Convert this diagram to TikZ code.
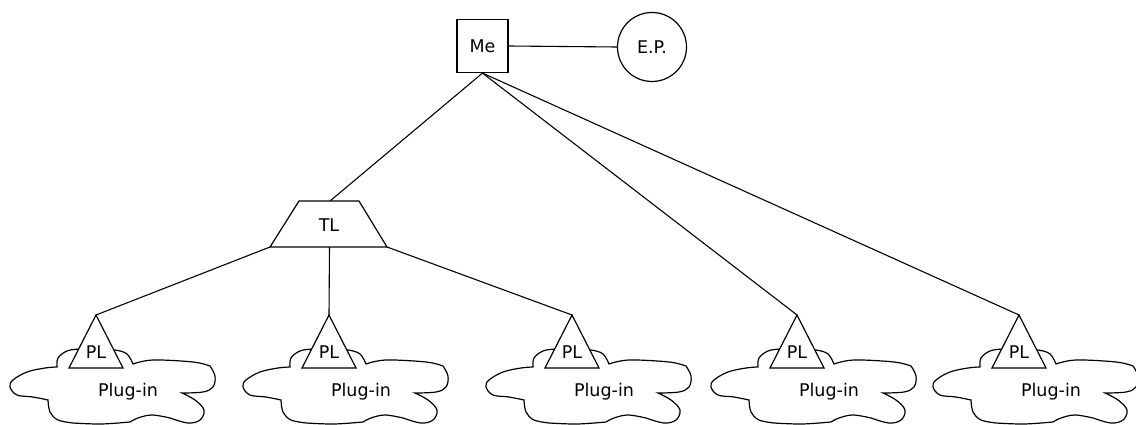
\documentclass[tikz,border=0pt]{standalone}
\usepackage{fontspec}
\setmainfont{DejaVu Sans}
\begin{document}
\begin{tikzpicture}[x=1pt,y=-1pt,line width=1.2pt,
  font=\fontsize{17.5}{21}\selectfont,
  every node/.style={inner sep=0pt},
  link/.style={line width=1.1pt},
  plug/.style={fill=white,line join=miter}]
\useasboundingbox (0,0) rectangle (1136,425);

% top of the tree
\node[draw,minimum width=51pt,minimum height=53pt] (me) at (482.5,46) {Me};
\node[draw,circle,minimum size=69pt] (ep) at (652,47) {E.P.};
\draw[link] (me.east) -- (ep.west);

% trapezoid TL
\coordinate (tlA) at (270,247);
\coordinate (tlB) at (387,247);
\coordinate (tlC) at (359,201);
\coordinate (tlD) at (299,201);
\coordinate (tltop) at (330,201);
\coordinate (tlmid) at (329.5,247);
\draw[line join=miter] (tlA) -- (tlB) -- (tlC) -- (tlD) -- cycle;
\node (tl) at (329,225) {TL};

% a cloud with a PL triangle on top; #1 = x of apex, #2 = name
\newcommand\plugcloud[2]{%
  \begin{scope}[shift={(#1,0)}]
    \draw[plug]
      plot[smooth,tension=0.6] coordinates {(-39,367) (-38,358) (-29,351) (-16,349) (0,349) (19,350) (31,354) (37,364)}
      -- plot[smooth,tension=0.6] coordinates {(37,364) (57,360) (97,362) (114,366)}
      -- plot[smooth,tension=0.6] coordinates {(114,366) (119,376) (117,387) (107,392) (86,393)}
      -- plot[smooth,tension=0.6] coordinates {(86,393) (99,400) (108,410) (104,420) (92,423) (74,418)}
      -- plot[smooth,tension=0.6] coordinates {(74,418) (56,415) (42,418) (34,422)}
      -- plot[smooth,tension=0.6] coordinates {(34,422) (5,424) (-23,423)}
      -- plot[smooth,tension=0.6] coordinates {(-23,423) (-38,420) (-46,412) (-48,400)}
      -- plot[smooth,tension=0.6] coordinates {(-48,400) (-63,397) (-79,395) (-86,387) (-83,380) (-69,372) (-51,368) (-39,367)}
      -- cycle;
    \coordinate (#2) at (0,315);
    \draw[plug] (#2) -- (27,368) -- (-27,368) -- cycle;
    \node (#2t) at (0,352) {PL};
    \node (#2c) at (32,392) {Plug-in};
  \end{scope}}

\plugcloud{96}{pla}
\plugcloud{329}{plb}
\plugcloud{572}{plc}
\plugcloud{797}{pld}
\plugcloud{1019}{ple}

% connectors
\draw[link] (me.south) -- (tltop);
\draw[link] (me.south) -- (pld);
\draw[link] (me.south) -- (ple);
\draw[link] (tlA) -- (pla);
\draw[link] (tlmid) -- (plb);
\draw[link] (tlB) -- (plc);
\end{tikzpicture}
\end{document}
